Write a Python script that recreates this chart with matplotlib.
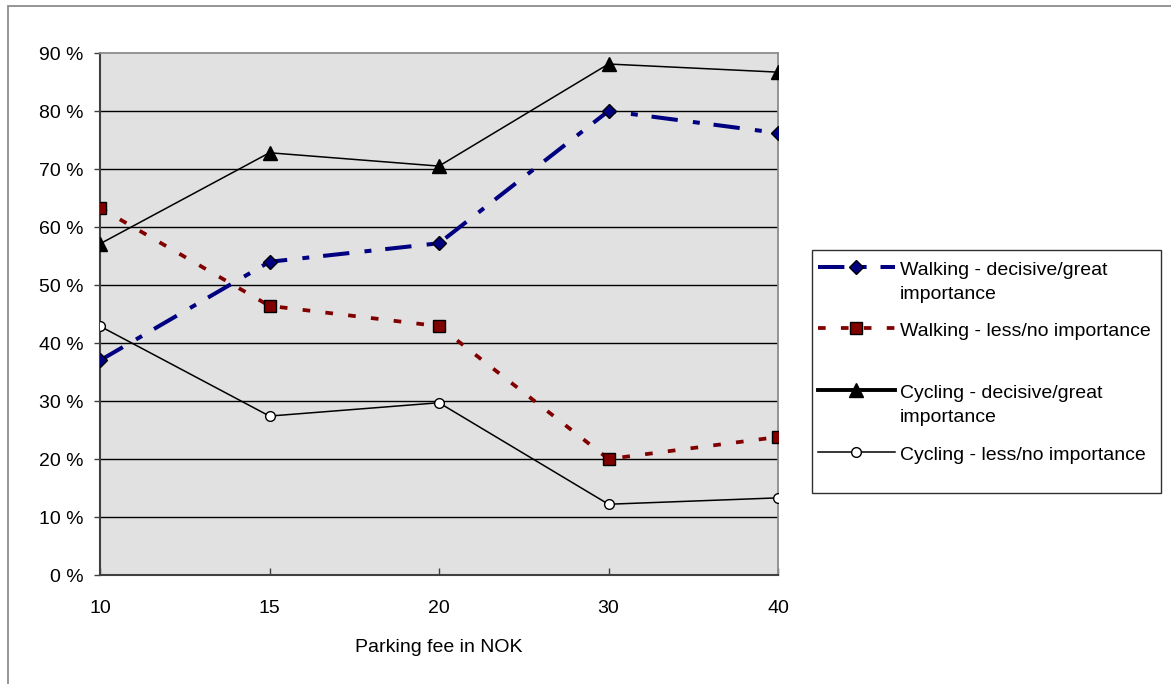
import matplotlib
matplotlib.use("Agg")
import matplotlib.pyplot as plt
from matplotlib.patches import Rectangle
from matplotlib.lines import Line2D

plt.rcParams['font.family'] = ['Liberation Sans', 'DejaVu Sans']
plt.rcParams['lines.scale_dashes'] = False

# data
fees = ['10', '15', '20', '30', '40']
walk_great = [37.0, 54.0, 57.2, 80.0, 76.2]
walk_less = [63.3, 46.4, 42.9, 20.0, 23.8]
cycle_great = [57.1, 72.8, 70.5, 88.1, 86.7]
cycle_less = [42.9, 27.4, 29.7, 12.2, 13.3]
yticks = [0, 10, 20, 30, 40, 50, 60, 70, 80, 90]
labels = ['Walking - decisive/great\nimportance',
          'Walking - less/no importance',
          'Cycling - decisive/great\nimportance',
          'Cycling - less/no importance']

W, H = 1171, 684
FS = 14

styles = [
    dict(color='#000080', linewidth=2.9, dashes=(19, 11, 5, 10), marker='D',
         markersize=7.5, markerfacecolor='#000080', markeredgecolor='black',
         markeredgewidth=1),
    dict(color='#800000', linewidth=2.7, dashes=(5.5, 11), marker='s',
         markersize=8, markerfacecolor='#800000', markeredgecolor='black',
         markeredgewidth=1),
    dict(color='black', linewidth=1.1, marker='^', markersize=10,
         markerfacecolor='black', markeredgecolor='black'),
    dict(color='black', linewidth=1.1, marker='o', markersize=7,
         markerfacecolor='white', markeredgecolor='black', markeredgewidth=1),
]

fig = plt.figure(figsize=(W / 100, H / 100), dpi=100)
ax = fig.add_axes([100 / W, 1 - 575 / H, 678 / W, 522 / H])
ax.set_facecolor('#e1e1e1')

# outer chart frame (cut off at right and bottom)
fig.patches.append(Rectangle((8 / W, -0.1), 1.2, 1.1 - 6 / H,
                             transform=fig.transFigure, fill=False,
                             edgecolor='#8c8c8c', linewidth=1.3))

x = range(len(fees))
for vals, st in zip([walk_great, walk_less, cycle_great, cycle_less], styles):
    ax.plot(x, vals, zorder=3, **st)

ax.set_xlim(0, len(fees) - 1)
ax.set_ylim(0, 90)
ax.set_xticks(list(x))
ax.set_xticklabels(fees)
ax.set_yticks(yticks)
ax.set_yticklabels([f'{v} %' for v in yticks])
for v in yticks[1:-1]:
    ax.axhline(v, color='black', linewidth=1, zorder=1)

ax.tick_params(axis='y', direction='out', length=4, width=1, pad=8,
               labelsize=FS, color='#404040')
ax.tick_params(axis='x', direction='in', length=5, width=1, pad=18,
               labelsize=FS, color='#404040')

for s in ['left', 'bottom']:
    ax.spines[s].set_color('#404040')
    ax.spines[s].set_linewidth(1.5)
for s in ['top', 'right']:
    ax.spines[s].set_color('#8c8c8c')
    ax.spines[s].set_linewidth(1.3)

ax.set_xlabel('Parking fee in NOK', fontsize=FS, labelpad=16)

# legend drawn like the spreadsheet one: handle aligned with first text line
fig.patches.append(Rectangle((812 / W, 1 - 493 / H), 349 / W, 243 / H,
                             transform=fig.transFigure, facecolor='white',
                             edgecolor='#303030', linewidth=1.0))
handle_y = [267, 328, 390, 452]
for lab, st, hy in zip(labels, styles, handle_y):
    st = dict(st)
    if st['marker'] == '^':
        st['linewidth'] = 2.8
    yf = 1 - hy / H
    fig.lines.append(Line2D([818 / W, 895 / W], [yf, yf], transform=fig.transFigure,
                            **{k: v for k, v in st.items() if not k.startswith('marker')}))
    fig.lines.append(Line2D([856 / W], [yf], transform=fig.transFigure,
                            linestyle='none',
                            **{k: v for k, v in st.items() if k.startswith('marker')}))
    fig.text(900 / W, 1 - (hy - 5) / H, lab, fontsize=FS, va='top', ha='left',
             linespacing=1.55)

fig.savefig('out.png', dpi=100)
